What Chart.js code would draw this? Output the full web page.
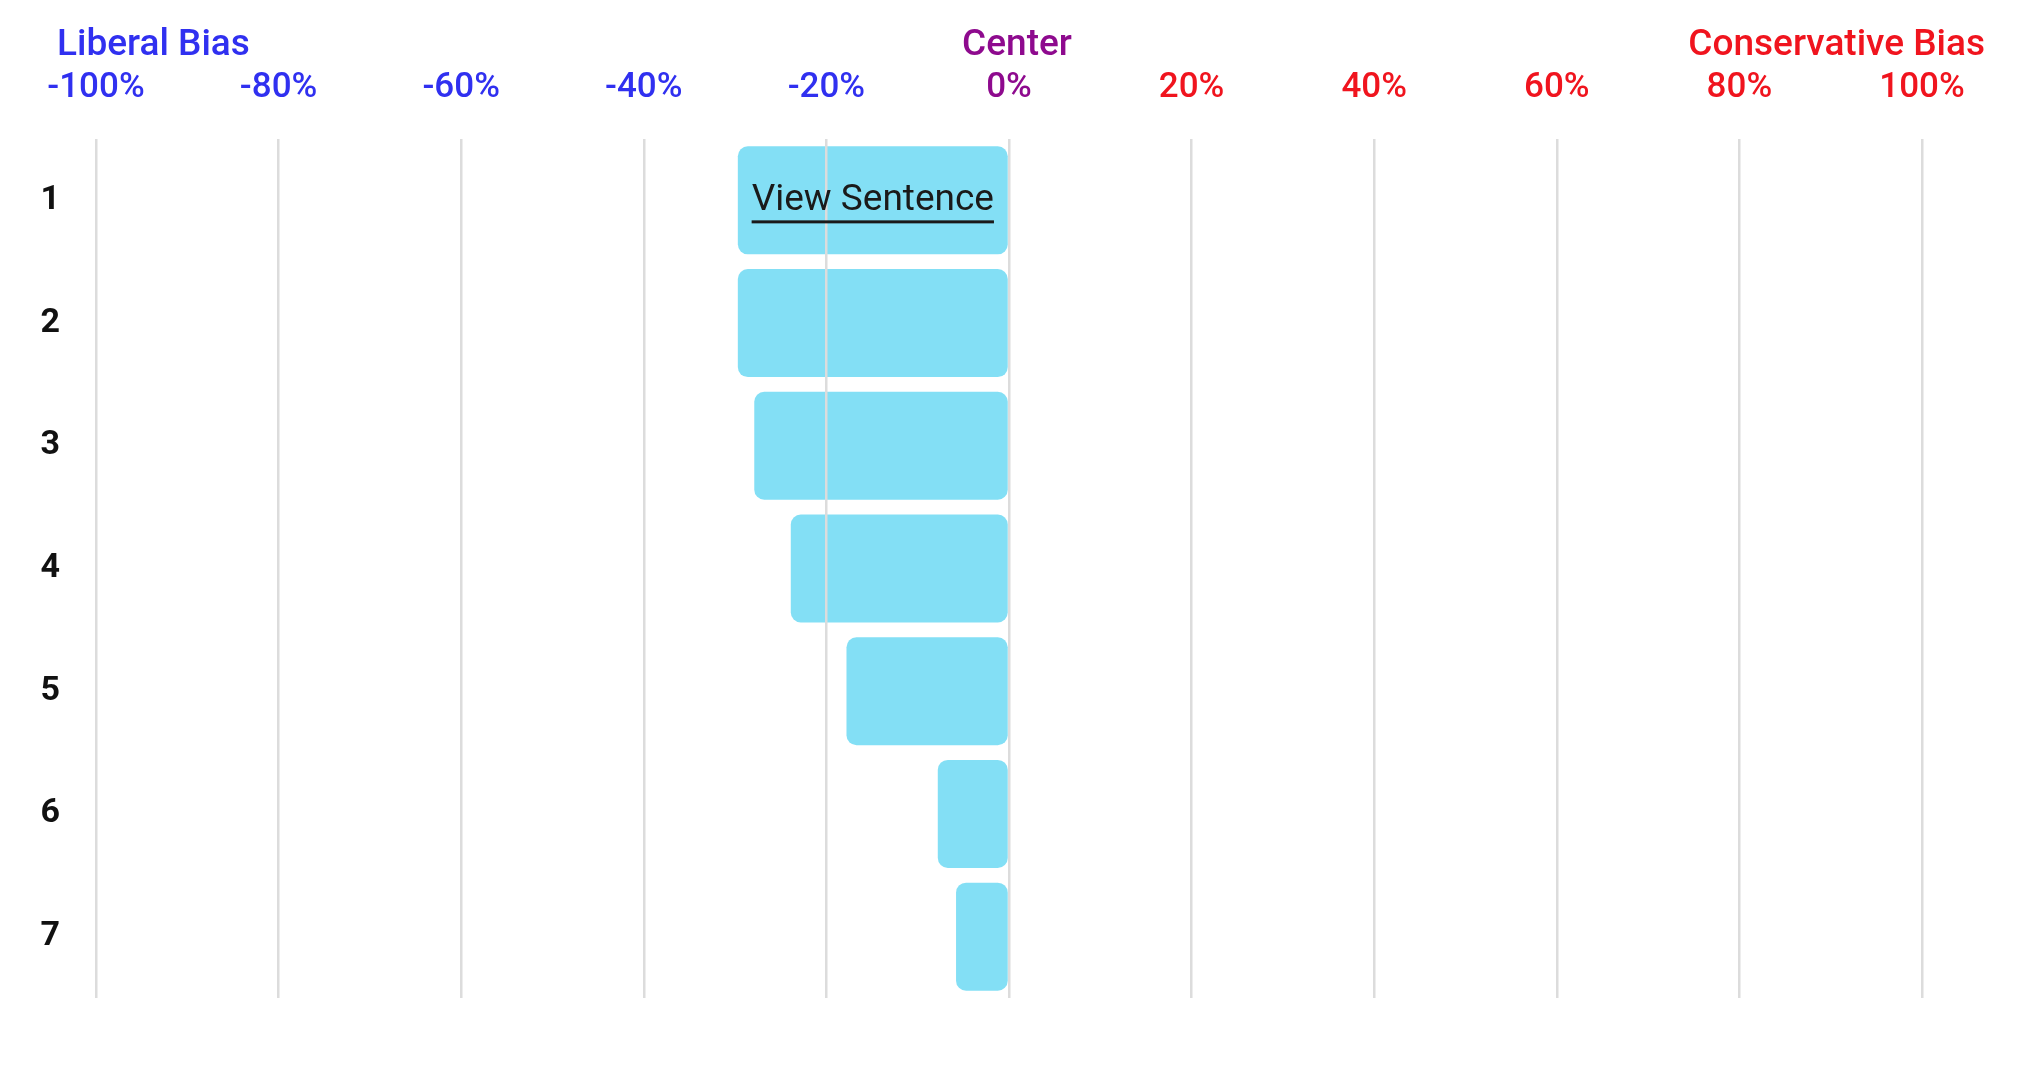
<!DOCTYPE html>
<html lang="en">
<head>
  <meta charset="UTF-8" />
  <title>Bias Chart</title>
  <script src="https://cdn.jsdelivr.net/npm/chart.js"></script>
  <style>
    body { margin: 0; background: #fff; }
    .chart-wrapper { width: 2025px; height: 1076px; }
  </style>
</head>
<body>
  <div class="chart-wrapper">
    <canvas id="biasChart"></canvas>
  </div>
  <script>
    const sentences = ["1", "2", "3", "4", "5", "6", "7"];
    const biasValues = [-29.7, -29.7, -27.9, -23.9, -17.8, -7.8, -5.8];
    const tickValues = [-100, -80, -60, -40, -20, 0, 20, 40, 60, 80, 100];

    const BLUE = "#3030f0";
    const PURPLE = "#8e0a8e";
    const RED = "#f0141e";

    function tickColor(v) {
      if (v < 0) return BLUE;
      if (v === 0) return PURPLE;
      return RED;
    }

    // titles above the axis + the "View Sentence" link on the first bar
    const headerPlugin = {
      id: "headerPlugin",
      afterDraw: (chart) => {
        const ctx = chart.ctx;
        const x = chart.scales.x;
        ctx.save();
        ctx.font = "500 37px Roboto";
        ctx.textBaseline = "middle";
        ctx.fillStyle = BLUE;
        ctx.textAlign = "left";
        ctx.fillText("Liberal Bias", 57, 46);
        ctx.fillStyle = PURPLE;
        ctx.textAlign = "center";
        ctx.fillText("Center", x.getPixelForValue(0) + 8, 46);
        ctx.fillStyle = RED;
        ctx.textAlign = "right";
        ctx.fillText("Conservative Bias", 1985, 46);

        const bar = chart.getDatasetMeta(0).data[0];
        const cx = (bar.x + bar.base) / 2;
        ctx.font = "37px Roboto";
        ctx.fillStyle = "#1a1a1a";
        ctx.textAlign = "center";
        ctx.fillText("View Sentence", cx, bar.y);
        const w = ctx.measureText("View Sentence").width;
        ctx.fillRect(cx - w / 2, bar.y + 20, w, 3);
        ctx.restore();
      }
    };

    new Chart(document.getElementById("biasChart"), {
      type: "bar",
      data: {
        labels: sentences,
        datasets: [{
          data: biasValues,
          backgroundColor: "rgba(100, 215, 243, 0.8)",
          borderWidth: 0,
          borderRadius: 10,
          borderSkipped: false,
          barPercentage: 0.88,
          categoryPercentage: 1
        }]
      },
      options: {
        indexAxis: "y",
        responsive: true,
        maintainAspectRatio: false,
        animation: false,
        layout: { padding: { left: 0, right: 103, top: 0, bottom: 78 } },
        plugins: {
          legend: { display: false },
          tooltip: { enabled: false }
        },
        scales: {
          x: {
            position: "top",
            min: -100,
            max: 100,
            afterBuildTicks: (axis) => { axis.ticks = tickValues.map(v => ({ value: v })); },
            afterFit: (axis) => { axis.height = 139; },
            border: { display: false },
            grid: { color: "#dcdcdc", lineWidth: 2.5, drawTicks: false, z: 1 },
            ticks: {
              padding: 30,
              font: { family: "Roboto", size: 35, weight: "500" },
              color: (c) => tickColor(c.tick.value),
              callback: (v) => v + "%"
            }
          },
          y: {
            afterFit: (axis) => { axis.width = 96; },
            border: { display: false },
            grid: { display: false, drawTicks: false },
            ticks: {
              padding: 36,
              font: { family: "Roboto", size: 34, weight: "bold" },
              color: "#111"
            }
          }
        }
      },
      plugins: [headerPlugin]
    });
  </script>
</body>
</html>
